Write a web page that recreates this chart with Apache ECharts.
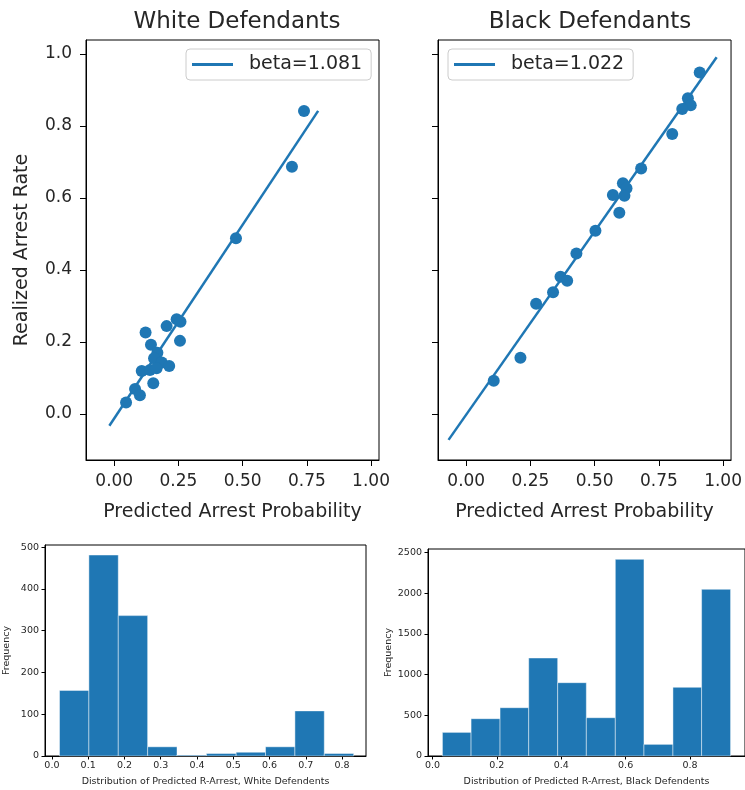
<!DOCTYPE html>
<html>
<head>
<meta charset="utf-8">
<script src="https://cdn.jsdelivr.net/npm/echarts@6/dist/echarts.min.js"></script>
<style>html,body{margin:0;padding:0;background:#fff}#c{width:745px;height:790px}</style>
</head>
<body>
<div id="c"></div>
<script>
// ---- data ----
const titles = ['White Defendants', 'Black Defendants'];
const whitePredicted = [0.739, 0.692, 0.474, 0.122, 0.204, 0.243, 0.258, 0.256, 0.143, 0.168, 0.155, 0.185, 0.214, 0.107, 0.139, 0.165, 0.152, 0.081, 0.100, 0.046];
const whiteRealized  = [0.842, 0.687, 0.488, 0.226, 0.244, 0.263, 0.256, 0.203, 0.192, 0.170, 0.155, 0.143, 0.133, 0.119, 0.122, 0.127, 0.085, 0.069, 0.052, 0.032];
const blackPredicted = [0.909, 0.863, 0.874, 0.841, 0.802, 0.681, 0.610, 0.624, 0.616, 0.571, 0.596, 0.503, 0.429, 0.367, 0.393, 0.338, 0.272, 0.211, 0.107];
const blackRealized  = [0.949, 0.877, 0.858, 0.847, 0.778, 0.682, 0.641, 0.627, 0.606, 0.608, 0.559, 0.509, 0.446, 0.381, 0.370, 0.338, 0.306, 0.156, 0.092];
const whiteLineX = [-0.019, 0.794];
const whiteLineY = [-0.033, 0.842];
const blackLineX = [-0.069, 0.975];
const blackLineY = [-0.072, 0.991];
const whiteBeta = 'beta=1.081';
const blackBeta = 'beta=1.022';
const scatterXTicks = [0, 0.25, 0.5, 0.75, 1.0];
const scatterYTicks = [0, 0.2, 0.4, 0.6, 0.8, 1.0];

const whiteBinEdges = [0.021, 0.102, 0.183, 0.264, 0.345, 0.426, 0.508, 0.589, 0.670, 0.751, 0.832];
const whiteCounts   = [157, 481, 336, 22, 2, 6, 9, 22, 108, 6];
const blackBinEdges = [0.031, 0.120, 0.210, 0.299, 0.389, 0.478, 0.568, 0.657, 0.747, 0.836, 0.926];
const blackCounts   = [290, 458, 593, 1203, 900, 470, 2414, 143, 843, 2046];
const whiteHistXTicks = [0, 0.1, 0.2, 0.3, 0.4, 0.5, 0.6, 0.7, 0.8];
const whiteHistYTicks = [0, 100, 200, 300, 400, 500];
const blackHistXTicks = [0, 0.2, 0.4, 0.6, 0.8];
const blackHistYTicks = [0, 500, 1000, 1500, 2000, 2500];
const histXLabels = ['Distribution of Predicted R-Arrest, White Defendents', 'Distribution of Predicted R-Arrest, Black Defendents'];

// ---- build ----
const FONT = 'DejaVu Sans';
const BLUE = '#1f77b4';
const TXT = '#262626';
const zip = (a, b) => a.map((v, i) => [v, b[i]]);
const bins = (edges, counts) => counts.map((c, i) => [edges[i], edges[i + 1], c]);

function xAxisTop(grid, showLabel) {
  return {
    type: 'value', gridIndex: grid, min: -0.110, max: 1.031,
    axisLine: { show: true, onZero: false, lineStyle: { color: '#000', width: 1 } },
    axisTick: { show: true, length: 6, customValues: scatterXTicks, lineStyle: { color: '#000' } },
    axisLabel: { show: showLabel, customValues: scatterXTicks, margin: 13, fontSize: 17, fontFamily: FONT, color: TXT, formatter: v => v.toFixed(2) },
    splitLine: { show: false },
    name: 'Predicted Arrest Probability', nameLocation: 'middle', nameGap: 43,
    nameTextStyle: { fontSize: 19, fontFamily: FONT, color: TXT }
  };
}
function yAxisTop(grid, showLabel) {
  const a = {
    type: 'value', gridIndex: grid, min: -0.128, max: 1.039,
    axisLine: { show: true, onZero: false, lineStyle: { color: '#000', width: 1 } },
    axisTick: { show: true, length: 6, customValues: scatterYTicks, lineStyle: { color: '#000' } },
    axisLabel: { show: showLabel, customValues: scatterYTicks, margin: 14, fontSize: 17, fontFamily: FONT, color: TXT, formatter: v => v.toFixed(1) },
    splitLine: { show: false }
  };
  if (showLabel) {
    a.name = 'Realized Arrest Rate'; a.nameLocation = 'middle'; a.nameGap = 54; a.nameRotate = 90;
    a.nameTextStyle = { fontSize: 19, fontFamily: FONT, color: TXT };
  }
  return a;
}
function histX(grid, min, max, ticks, name) {
  return {
    type: 'value', gridIndex: grid, min: min, max: max,
    axisLine: { show: true, onZero: false, lineStyle: { color: '#000', width: 1 } },
    axisTick: { show: true, length: 3.5, customValues: ticks, lineStyle: { color: '#000' } },
    axisLabel: { customValues: ticks, margin: 5, fontSize: 9.5, fontFamily: FONT, color: TXT, formatter: v => v.toFixed(1) },
    splitLine: { show: false },
    name: name, nameLocation: 'middle', nameGap: 21,
    nameTextStyle: { fontSize: 9.5, fontFamily: FONT, color: TXT }
  };
}
function histY(grid, max, ticks, gap) {
  return {
    type: 'value', gridIndex: grid, min: 0, max: max,
    axisLine: { show: true, onZero: false, lineStyle: { color: '#000', width: 1 } },
    axisTick: { show: true, length: 3.5, customValues: ticks, lineStyle: { color: '#000' } },
    axisLabel: { customValues: ticks, margin: 6, fontSize: 9.5, fontFamily: FONT, color: TXT, formatter: v => String(v) },
    splitLine: { show: false },
    name: 'Frequency', nameLocation: 'middle', nameGap: gap, nameRotate: 90,
    nameTextStyle: { fontSize: 9.5, fontFamily: FONT, color: TXT }
  };
}
function histSeries(x, y, data) {
  return {
    type: 'custom', xAxisIndex: x, yAxisIndex: y, data: data,
    encode: { x: [0, 1], y: 2 },
    renderItem: (params, api) => {
      const p0 = api.coord([api.value(0), api.value(2)]);
      const p1 = api.coord([api.value(1), 0]);
      return { type: 'rect', shape: { x: p0[0], y: p0[1], width: p1[0] - p0[0], height: p1[1] - p0[1] },
               style: { fill: BLUE, stroke: 'rgba(255,255,255,0.45)', lineWidth: 1 } };
    }
  };
}
function legend(idx, name, left, top) {
  return {
    data: [{ name: name, icon: 'rect' }], left: left, top: top, orient: 'horizontal',
    itemWidth: 41, itemHeight: 3, padding: [6, 9, 6, 6],
    backgroundColor: 'rgba(255,255,255,0.8)', borderColor: '#cccccc', borderWidth: 1, borderRadius: 4,
    textStyle: { fontSize: 19, fontFamily: FONT, color: TXT, padding: [0, 0, 0, 11] },
    selectedMode: false
  };
}
const frame = { show: true, borderColor: '#000', borderWidth: 1, backgroundColor: 'transparent' };

const option = {
  animation: false,
  backgroundColor: '#fff',
  title: [
    { text: titles[0], left: 232, top: 6, textAlign: 'center', textStyle: { fontSize: 23, fontWeight: 'normal', fontFamily: FONT, color: TXT } },
    { text: titles[1], left: 585, top: 6, textAlign: 'center', textStyle: { fontSize: 23, fontWeight: 'normal', fontFamily: FONT, color: TXT } }
  ],
  legend: [legend(0, whiteBeta, 186, 49), legend(1, blackBeta, 448, 49)],
  grid: [
    Object.assign({ left: 86, top: 40, width: 293, height: 420 }, frame),
    Object.assign({ left: 438, top: 40, width: 294, height: 420 }, frame),
    Object.assign({ left: 45, top: 545, width: 321, height: 211 }, frame),
    Object.assign({ left: 428, top: 549, width: 319, height: 207 }, frame)
  ],
  xAxis: [
    xAxisTop(0, true), xAxisTop(1, true),
    histX(2, -0.019, 0.866, whiteHistXTicks, histXLabels[0]),
    histX(3, -0.0138, 0.9708, blackHistXTicks, histXLabels[1])
  ],
  yAxis: [
    yAxisTop(0, true), yAxisTop(1, false),
    histY(2, 505, whiteHistYTicks, 33),
    histY(3, 2541, blackHistYTicks, 33)
  ],
  series: [
    { name: whiteBeta, type: 'line', xAxisIndex: 0, yAxisIndex: 0, data: zip(whiteLineX, whiteLineY), showSymbol: false, symbol: 'none', lineStyle: { color: BLUE, width: 2.5 }, itemStyle: { color: BLUE }, z: 2 },
    { type: 'scatter', xAxisIndex: 0, yAxisIndex: 0, data: zip(whitePredicted, whiteRealized), symbolSize: 12, itemStyle: { color: BLUE, opacity: 1 }, z: 3 },
    { name: blackBeta, type: 'line', xAxisIndex: 1, yAxisIndex: 1, data: zip(blackLineX, blackLineY), showSymbol: false, symbol: 'none', lineStyle: { color: BLUE, width: 2.5 }, itemStyle: { color: BLUE }, z: 2 },
    { type: 'scatter', xAxisIndex: 1, yAxisIndex: 1, data: zip(blackPredicted, blackRealized), symbolSize: 12, itemStyle: { color: BLUE, opacity: 1 }, z: 3 },
    histSeries(2, 2, bins(whiteBinEdges, whiteCounts)),
    histSeries(3, 3, bins(blackBinEdges, blackCounts))
  ]
};
const chart = echarts.init(document.getElementById('c'), null, { renderer: 'canvas' });
chart.setOption(option);
</script>
</body>
</html>
